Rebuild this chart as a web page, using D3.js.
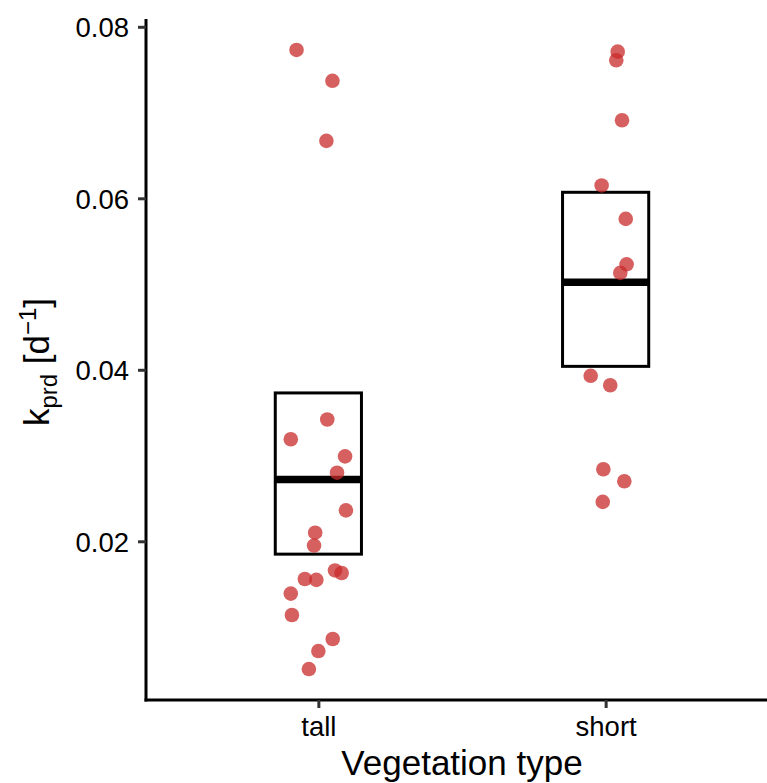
<!DOCTYPE html>
<html>
<head>
    <meta charset="utf-8">
    <title>kprd by vegetation type</title>
    <script src="https://d3js.org/d3.v7.min.js"></script>
    <style>
        body { margin: 0; background: white; }
        svg { display: block; font-family: 'Liberation Sans', Arial, sans-serif; }
    </style>
</head>
<body>
<svg width="767" height="783"></svg>

<script>
    // categories + box summaries (mean, lower, upper)
    let categories = ["tall", "short"]
    let boxMid = [0.0272, 0.0502]
    let boxLow = [0.0185, 0.0404]
    let boxHigh = [0.0373, 0.0607]
    let yTicks = [0.02, 0.04, 0.06, 0.08]

    // raw points, jitter in category units
    let tallVals = [0.0773, 0.0737, 0.0667, 0.0342, 0.0319, 0.0299, 0.0280, 0.0236, 0.0210, 0.0195,
                    0.0166, 0.0163, 0.0156, 0.0155, 0.0139, 0.0114, 0.0086, 0.0072, 0.0051]
    let tallJit = [-0.076, 0.049, 0.028, 0.031, -0.096, 0.093, 0.065, 0.096, -0.011, -0.015,
                   0.058, 0.081, -0.047, -0.007, -0.096, -0.092, 0.050, 0.000, -0.033]
    let shortVals = [0.0771, 0.0761, 0.0691, 0.0615, 0.0576, 0.0523, 0.0513, 0.0393, 0.0382, 0.0284, 0.0270, 0.0246]
    let shortJit = [0.042, 0.037, 0.057, -0.014, 0.070, 0.073, 0.051, -0.052, 0.016, -0.008, 0.065, -0.010]

    let points = tallVals.map((v, i) => ({ cat: "tall", v: v, j: tallJit[i] }))
        .concat(shortVals.map((v, i) => ({ cat: "short", v: v, j: shortJit[i] })))

    let svg = d3.select("svg")
    let mLeft = 146, mBottom = 700, mTop = 19

    let x = d3.scalePoint()
        .domain(categories)
        .range([mLeft, mLeft + 632])
        .padding(0.6)

    let ext = d3.extent(points, d => d.v)
    let pad = (ext[1] - ext[0]) * 0.05
    let y = d3.scaleLinear()
        .domain([ext[0] - pad, ext[1] + pad])
        .range([mBottom, mTop])

    let boxW = 0.3 * x.step()

    // boxes
    let boxes = svg.append("g")
    categories.forEach((c, i) => {
        boxes.append("rect")
            .attr("x", x(c) - boxW / 2)
            .attr("y", y(boxHigh[i]))
            .attr("width", boxW)
            .attr("height", y(boxLow[i]) - y(boxHigh[i]))
            .style("fill", "white")
            .style("stroke", "black")
            .style("stroke-width", 3)
        boxes.append("line")
            .attr("x1", x(c) - boxW / 2)
            .attr("x2", x(c) + boxW / 2)
            .attr("y1", y(boxMid[i]))
            .attr("y2", y(boxMid[i]))
            .style("stroke", "black")
            .style("stroke-width", 7.5)
    })

    // points
    svg.append("g")
        .selectAll("circle")
        .data(points)
        .join("circle")
        .attr("cx", d => x(d.cat) + d.j * x.step())
        .attr("cy", d => y(d.v))
        .attr("r", 7.3)
        .style("fill", "rgb(200,43,43)")
        .style("opacity", 0.75)

    // y axis
    let yAxis = svg.append("g")
        .attr("transform", `translate(${mLeft},0)`)
        .call(d3.axisLeft(y).tickValues(yTicks).tickFormat(d3.format(".2f")).tickSize(8).tickPadding(9))
    yAxis.select(".domain").attr("d", `M0,${mTop}V${mBottom + 1.5}`).style("stroke", "black").style("stroke-width", 3)
    yAxis.selectAll(".tick line").style("stroke", "#333").style("stroke-width", 3)
    yAxis.selectAll(".tick text").style("font-size", "27.5px").style("fill", "black").attr("dy", "0.36em")

    // x axis
    let xAxis = svg.append("g")
        .attr("transform", `translate(0,${mBottom})`)
        .call(d3.axisBottom(x).tickSize(8).tickPadding(8))
    xAxis.select(".domain").attr("d", `M${mLeft - 1.5},0H767`).style("stroke", "black").style("stroke-width", 3)
    xAxis.selectAll(".tick line").style("stroke", "#333").style("stroke-width", 3)
    xAxis.selectAll(".tick text").style("font-size", "27.5px").style("fill", "black")

    // titles
    svg.append("text")
        .attr("x", (mLeft + 778) / 2)
        .attr("y", 775)
        .attr("text-anchor", "middle")
        .style("font-size", "35px")
        .text("Vegetation type")

    let ylab = svg.append("text")
        .attr("transform", "translate(49,362) rotate(-90)")
        .attr("text-anchor", "middle")
        .style("font-size", "35px")
    ylab.append("tspan").text("k")
    ylab.append("tspan").text("prd").attr("dy", 8).style("font-size", "24px")
    ylab.append("tspan").text(" [d").attr("dy", -8)
    ylab.append("tspan").text("\u22121").attr("dy", -13).style("font-size", "24px")
    ylab.append("tspan").text("]").attr("dy", 13)
</script>
</body>
</html>
